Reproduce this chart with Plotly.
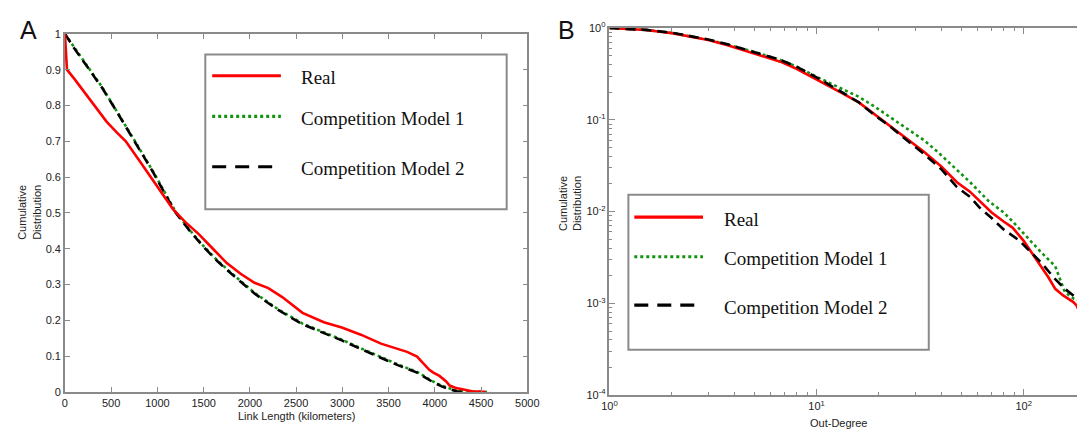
import plotly.graph_objects as go

# ---------------- data ----------------
# Panel A: cumulative distribution of link length (km)
real_A_x = [0, 8, 22, 100, 200, 318, 450, 560, 658, 800, 950, 1080, 1170, 1300, 1450, 1600,
            1750, 1900, 2050, 2200, 2350, 2569, 2800, 2994, 3200, 3418, 3600, 3700, 3808,
            3880, 3940, 3984, 4050, 4120, 4161, 4220, 4300, 4400, 4480, 4550]
real_A_y = [1.0, 0.95, 0.90, 0.875, 0.84, 0.80, 0.755, 0.725, 0.70, 0.648, 0.592, 0.542, 0.51,
            0.475, 0.44, 0.40, 0.36, 0.33, 0.305, 0.29, 0.265, 0.221, 0.195, 0.18, 0.16, 0.135,
            0.12, 0.112, 0.099, 0.08, 0.062, 0.054, 0.045, 0.03, 0.018, 0.012, 0.007, 0.002,
            0.001, 0.0]

m2_A_x = [0, 100, 250, 400, 520, 658, 800, 950, 1100, 1200, 1350, 1500, 1650, 1800, 2050,
          2300, 2569, 2800, 2994, 3200, 3418, 3600, 3808, 3900, 3984, 4080, 4161, 4230, 4300]
m2_A_y = [1.0, 0.96, 0.905, 0.85, 0.80, 0.74, 0.68, 0.615, 0.545, 0.50, 0.45, 0.405, 0.365,
          0.33, 0.275, 0.23, 0.189, 0.165, 0.144, 0.12, 0.095, 0.075, 0.054, 0.04, 0.027,
          0.015, 0.007, 0.002, 0.0]

m1_A_x = [0, 100, 250, 400, 520, 658, 800, 950, 1100, 1200, 1350, 1500, 1650, 1800, 2050,
          2300, 2569, 2800, 2994, 3200, 3418, 3600, 3808, 3900, 3984, 4080, 4161, 4230, 4300,
          4400, 4500, 4580]
m1_A_y = [1.0, 0.962, 0.907, 0.852, 0.802, 0.742, 0.682, 0.617, 0.547, 0.502, 0.452, 0.407,
          0.367, 0.332, 0.277, 0.232, 0.191, 0.167, 0.146, 0.122, 0.097, 0.077, 0.056, 0.042,
          0.029, 0.017, 0.009, 0.004, 0.002, 0.001, 0.001, 0.0]

# Panel B: cumulative distribution of out-degree (log-log)
real_B_x = [1, 1.5, 2, 3, 3.72, 5, 6.68, 8, 10.3, 13, 16, 19, 22.9, 27, 33, 40, 47.6, 55,
            61.4, 70, 80, 88.3, 100, 110, 122, 132, 142, 155, 173, 180, 186]
real_B_y = [1.0, 0.95, 0.88, 0.74, 0.65, 0.53, 0.43, 0.36, 0.267, 0.2, 0.155, 0.115, 0.083,
            0.063, 0.045, 0.031, 0.0209, 0.0165, 0.0129, 0.0098, 0.0078, 0.0067, 0.0048,
            0.0035, 0.00254, 0.0019, 0.00144, 0.00122, 0.00104, 0.00095, 0.0008]

m2_B_x = [1, 1.5, 2, 3, 3.72, 5, 6.68, 8, 10.3, 13, 16, 19, 22.9, 27, 33, 40, 47.6, 55, 61.4,
          70, 80, 95, 110, 122, 140, 158, 181, 190]
m2_B_y = [1.0, 0.955, 0.89, 0.75, 0.665, 0.55, 0.45, 0.38, 0.28, 0.205, 0.155, 0.113, 0.083,
          0.061, 0.0425, 0.029, 0.0185, 0.0145, 0.011, 0.0085, 0.0064, 0.00486, 0.0035,
          0.00276, 0.0019, 0.00144, 0.00113, 0.00105]

m1_B_x = [1, 1.5, 2, 3, 3.72, 5, 6.68, 8, 10.3, 13, 16, 19, 22.9, 27, 33, 38.3, 47.6, 55, 68,
          80, 88, 100, 120, 142, 158, 175, 190]
m1_B_y = [1.0, 0.955, 0.885, 0.745, 0.66, 0.55, 0.45, 0.38, 0.285, 0.22, 0.178, 0.14, 0.105,
          0.082, 0.060, 0.045, 0.0288, 0.021, 0.0129, 0.0098, 0.0079, 0.0058, 0.0037,
          0.00254, 0.00133, 0.00112, 0.00104]

series_names = ["Real", "Competition Model 1", "Competition Model 2"]
xticks_A = [0, 500, 1000, 1500, 2000, 2500, 3000, 3500, 4000, 4500, 5000]
yticks_A = [0, 0.1, 0.2, 0.3, 0.4, 0.5, 0.6, 0.7, 0.8, 0.9, 1]
xticks_B = [1, 10, 100]
xticktext_B = ["10<sup>0</sup>", "10<sup>1</sup>", "10<sup>2</sup>"]
yticks_B = [1, 0.1, 0.01, 0.001, 0.0001]
yticktext_B = ["10<sup>0</sup>", "10<sup>-1</sup>", "10<sup>-2</sup>", "10<sup>-3</sup>", "10<sup>-4</sup>"]

# ---------------- layout helpers ----------------
W, H = 1089, 437
def fx(p):
    return p / W
def fy(p):
    return 1 - p / H

RED = "#ff0000"
GREEN = "#129412"
BLACK = "#000000"
AXC = "#8a8a8a"
LW = 2.6
styles = [dict(color=RED, width=LW, dash="solid"),
          dict(color=GREEN, width=LW, dash="3px,3px"),
          dict(color=BLACK, width=LW, dash="10px,6px")]

fig = go.Figure()

# Panel A
fig.add_trace(go.Scatter(x=m1_A_x, y=m1_A_y, mode="lines", line=styles[1], name=series_names[1],
                         xaxis="x", yaxis="y", showlegend=False))
fig.add_trace(go.Scatter(x=m2_A_x, y=m2_A_y, mode="lines", line=styles[2], name=series_names[2],
                         xaxis="x", yaxis="y", showlegend=False))
fig.add_trace(go.Scatter(x=real_A_x, y=real_A_y, mode="lines", line=styles[0], name=series_names[0],
                         xaxis="x", yaxis="y", showlegend=False))
# Panel B
fig.add_trace(go.Scatter(x=m1_B_x, y=m1_B_y, mode="lines", line=styles[1], name=series_names[1],
                         xaxis="x2", yaxis="y2", showlegend=False))
fig.add_trace(go.Scatter(x=real_B_x, y=real_B_y, mode="lines", line=styles[0], name=series_names[0],
                         xaxis="x2", yaxis="y2", showlegend=False))
fig.add_trace(go.Scatter(x=m2_B_x, y=m2_B_y, mode="lines", line=styles[2], name=series_names[2],
                         xaxis="x2", yaxis="y2", showlegend=False))

tickfont = dict(family="Liberation Sans, Arial", size=11, color="#222222")
common = dict(showline=True, linecolor=AXC, linewidth=1.5, ticks="inside", tickcolor=AXC,
              showgrid=False, zeroline=False, tickfont=tickfont)

fig.update_layout(
    width=W, height=H, margin=dict(l=0, r=0, t=0, b=0),
    paper_bgcolor="white", plot_bgcolor="white", showlegend=False,
    xaxis=dict(domain=[fx(58), fx(529)], range=[0, 5000], tickvals=xticks_A, ticklen=5,
               mirror="allticks", anchor="y", **common),
    yaxis=dict(domain=[fy(396.7), fy(26.7)], range=[0, 1], tickvals=yticks_A, ticklen=5,
               mirror="allticks", anchor="x", **common),
    xaxis2=dict(domain=[fx(612.7), 1.0], type="log", range=[0, (W - 612.7) / 211.0],
                tickvals=xticks_B, ticktext=xticktext_B, ticklen=6, mirror="allticks", anchor="y2",
                minor=dict(ticks="inside", ticklen=3, tickcolor=AXC, dtick="D1"), **common),
    yaxis2=dict(domain=[fy(400), fy(20.7)], type="log", range=[-4, 0],
                tickvals=yticks_B, ticktext=yticktext_B, ticklen=6, mirror=False, anchor="x2",
                minor=dict(ticks="inside", ticklen=3, tickcolor=AXC, dtick="D1"), **common),
)

# ---------------- manual legends ----------------
shapes = []
annotations = []
serif = dict(family="Liberation Serif, Times New Roman", size=19, color="#111111")

def add_legend(box, xs0, xs1, xt, rows):
    x0, y0, x1, y1 = box
    shapes.append(dict(type="rect", xref="paper", yref="paper", x0=fx(x0), x1=fx(x1),
                       y0=fy(y1), y1=fy(y0), line=dict(color=AXC, width=2),
                       fillcolor="white", layer="above"))
    for i, ry in enumerate(rows):
        st = styles[i]
        shapes.append(dict(type="line", xref="paper", yref="paper", x0=fx(xs0), x1=fx(xs1),
                           y0=fy(ry), y1=fy(ry), layer="above",
                           line=dict(color=st["color"], width=3.2,
                                     dash=st["dash"] if i != 2 else "14px,9px")))
        annotations.append(dict(xref="paper", yref="paper", x=fx(xt), y=fy(ry + 2), text=series_names[i],
                                showarrow=False, xanchor="left", yanchor="middle", font=serif))

add_legend((201, 48, 508, 208), 208, 278, 296, [70, 112, 164])
add_legend((632, 193, 938, 353), 638, 708, 727, [216, 257, 307])

labfont = dict(family="Liberation Sans, Arial", size=11, color="#222222")
annotations += [
    dict(xref="paper", yref="paper", x=fx(293.5), y=fy(421), text="Link Length (kilometers)",
         showarrow=False, font=labfont, xanchor="center", yanchor="middle"),
    dict(xref="paper", yref="paper", x=fx(846), y=fy(429), text="Out-Degree",
         showarrow=False, font=labfont, xanchor="center", yanchor="middle"),
    dict(xref="paper", yref="paper", x=fx(22), y=fy(211), text="Cumulative<br>Distribution",
         showarrow=False, font=labfont, textangle=-90, xanchor="center", yanchor="middle"),
    dict(xref="paper", yref="paper", x=fx(572), y=fy(202), text="Cumulative<br>Distribution",
         showarrow=False, font=labfont, textangle=-90, xanchor="center", yanchor="middle"),
    dict(xref="paper", yref="paper", x=fx(21), y=fy(23), text="A", showarrow=False,
         font=dict(family="Liberation Sans, Arial", size=25, color="#111111"),
         xanchor="center", yanchor="middle"),
    dict(xref="paper", yref="paper", x=fx(569), y=fy(23), text="B", showarrow=False,
         font=dict(family="Liberation Sans, Arial", size=25, color="#111111"),
         xanchor="center", yanchor="middle"),
]

fig.update_layout(shapes=shapes, annotations=annotations)
fig.write_html("out.html")
